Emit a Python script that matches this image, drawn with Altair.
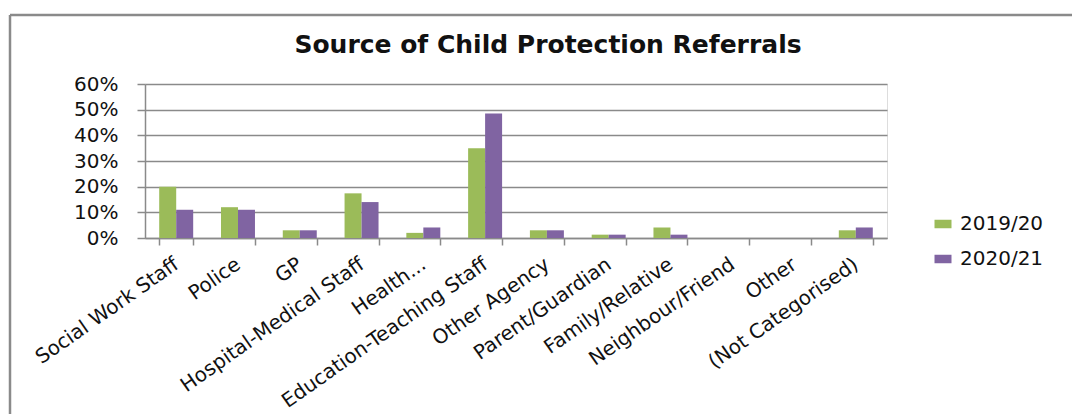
import altair as alt
import pandas as pd

categories = ["Social Work Staff", "Police", "GP", "Hospital-Medical Staff", "Health...",
              "Education-Teaching Staff", "Other Agency", "Parent/Guardian", "Family/Relative",
              "Neighbour/Friend", "Other", "(Not Categorised)"]
years = ["2019/20", "2020/21"]
v1920 = [0.20, 0.12, 0.03, 0.174, 0.02, 0.35, 0.03, 0.013, 0.041, 0.0, 0.0, 0.03]
v2021 = [0.11, 0.11, 0.03, 0.14, 0.041, 0.485, 0.03, 0.013, 0.013, 0.0, 0.0, 0.041]
y_ticks = [0, 0.1, 0.2, 0.3, 0.4, 0.5, 0.6]
colors = ["#9BBB59", "#8064A2"]

rows = []
for c, a, b in zip(categories, v1920, v2021):
    rows.append({"Source": c, "Year": years[0], "Share": a})
    rows.append({"Source": c, "Year": years[1], "Share": b})
df = pd.DataFrame(rows)

FONT = "DejaVu Sans"
W, H = 742, 154
PL, PT, PR, PB = 145, 84, 185, 176
GRAY = "#8a8a8a"

bars = alt.Chart(df).mark_bar().encode(
    x=alt.X("Source:N", sort=categories,
            scale=alt.Scale(paddingInner=0.45, paddingOuter=0.23),
            axis=alt.Axis(title=None, labelAngle=-35, labelAlign="right", labelBaseline="middle",
                          labelFontSize=20, labelFont=FONT, labelColor="#111111",
                          tickBand="extent", tickSize=7, tickColor=GRAY, tickWidth=1.5,
                          domainColor=GRAY, domainWidth=1.5, labelPadding=17, labelLimit=400)),
    xOffset=alt.XOffset("Year:N", sort=years, scale=alt.Scale(paddingInner=0, paddingOuter=0)),
    y=alt.Y("Share:Q", scale=alt.Scale(domain=[0, 0.6], nice=False),
            axis=alt.Axis(title=None, values=y_ticks, format=".0%", labelFontSize=20,
                          labelFont=FONT, labelColor="#111111", tickSize=8, tickColor=GRAY,
                          tickWidth=1.5, domainColor=GRAY, domainWidth=1.5, gridColor=GRAY,
                          gridWidth=1.5, labelPadding=19)),
    color=alt.Color("Year:N", sort=years, scale=alt.Scale(domain=years, range=colors),
                    legend=alt.Legend(title=None, orient="none", legendX=788, legendY=130,
                                      labelFontSize=20, labelFont=FONT, labelColor="#111111",
                                      symbolType="M-1,-0.5H1V0.5H-1Z", symbolSize=289,
                                      symbolStrokeWidth=0, rowPadding=15, padding=0,
                                      labelOffset=7)),
)

top_border = alt.Chart().mark_rule(color=GRAY, strokeWidth=2.5).encode(
    x=alt.value(-(PL - 10)), x2=alt.value(W + PR), y=alt.value(-(PT - 15)))
left_border = alt.Chart().mark_rule(color=GRAY, strokeWidth=2.5).encode(
    x=alt.value(-(PL - 10)), y=alt.value(-(PT - 15)), y2=alt.value(H + PB))

chart = alt.layer(bars, top_border, left_border).properties(
    width=W, height=H,
    autosize=alt.AutoSizeParams(type="none"),
    padding={"left": PL, "top": PT, "right": PR, "bottom": PB},
    title=alt.TitleParams("Source of Child Protection Referrals", font=FONT, fontSize=25,
                          fontWeight="bold", color="#111111", anchor="middle", dx=32, offset=-44),
).configure_view(stroke=None).configure(background="white")

chart.save("out.html", embed_options={"renderer": "svg", "actions": False})
